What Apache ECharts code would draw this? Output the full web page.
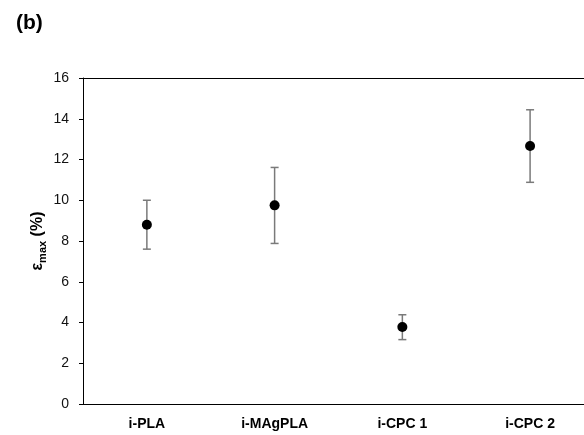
<!DOCTYPE html>
<html>
<head>
<meta charset="utf-8">
<script src="https://cdn.jsdelivr.net/npm/echarts@6/dist/echarts.min.js"></script>
<style>
    html, body { margin: 0; padding: 0; background: #fff; }
    #chart { width: 584px; height: 435px; }
</style>
</head>
<body>
<div id="chart"></div>
<script>
// 数据
var categories = ['i-PLA', 'i-MAgPLA', 'i-CPC 1', 'i-CPC 2'];
var meanValues = [8.8, 9.75, 3.78, 12.66];
var lowValues = [7.6, 7.88, 3.16, 10.88];
var highValues = [10.0, 11.61, 4.38, 14.44];
var yTicks = [0, 2, 4, 6, 8, 10, 12, 14, 16];
var categoryPos = [0, 1, 2, 3];

var font = 'Arial, "Liberation Sans", sans-serif';

var chart = echarts.init(document.getElementById('chart'));

var pointData = [], errorData = [];
for (var i = 0; i < categories.length; i++) {
    pointData.push([categoryPos[i], meanValues[i]]);
    errorData.push([categoryPos[i], lowValues[i], highValues[i]]);
}

// 误差线
function renderError(params, api) {
    var x = api.value(0);
    var lo = api.coord([x, api.value(1)]);
    var hi = api.coord([x, api.value(2)]);
    var cap = 4;
    var style = { stroke: '#7a7a7a', lineWidth: 1.5, fill: null };
    return {
        type: 'group',
        children: [
            { type: 'line', shape: { x1: hi[0], y1: hi[1], x2: lo[0], y2: lo[1] }, style: style },
            { type: 'line', shape: { x1: hi[0] - cap, y1: hi[1], x2: hi[0] + cap, y2: hi[1] }, style: style },
            { type: 'line', shape: { x1: lo[0] - cap, y1: lo[1], x2: lo[0] + cap, y2: lo[1] }, style: style }
        ]
    };
}

var option = {
    animation: false,
    backgroundColor: '#fff',
    title: {
        text: '(b)',
        left: 11,
        top: 8,
        textStyle: { fontFamily: font, fontSize: 21, fontWeight: 'bold', color: '#000' }
    },
    grid: {
        left: 83,
        top: 78,
        bottom: 31,
        right: 0
    },
    xAxis: [
        {
            type: 'value',
            // 图在右侧被裁掉，类目宽度约 128px
            min: -0.5,
            max: 3.422,
            axisLine: { show: true, onZero: false, lineStyle: { color: '#000', width: 1 } },
            axisTick: { show: false },
            axisLabel: {
                margin: 13,
                fontFamily: font,
                fontSize: 14,
                fontWeight: 'bold',
                color: '#000',
                customValues: categoryPos,
                formatter: function (v) { return categories[Math.round(v)]; }
            },
            splitLine: { show: false }
        },
        {
            type: 'value',
            position: 'top',
            min: -0.5,
            max: 3.422,
            axisLine: { show: true, onZero: false, lineStyle: { color: '#000', width: 1 } },
            axisTick: { show: false },
            axisLabel: { show: false },
            splitLine: { show: false }
        }
    ],
    yAxis: {
        type: 'value',
        min: yTicks[0],
        max: yTicks[yTicks.length - 1],
        interval: 2,
        name: '{e|ε}{sub|max}{e| (%)}',
        nameLocation: 'middle',
        nameGap: 35,
        nameRotate: 90,
        nameMoveOverlap: false,
        nameTextStyle: {
            rich: {
                e: { fontFamily: font, fontSize: 16, fontWeight: 'bold', color: '#000', lineHeight: 20, verticalAlign: 'middle' },
                sub: { fontFamily: font, fontSize: 11, fontWeight: 'bold', color: '#000', lineHeight: 20, verticalAlign: 'bottom', padding: [7, 0, 0, 0] }
            }
        },
        axisLine: { show: true, onZero: false, lineStyle: { color: '#000', width: 1 } },
        axisTick: { show: true, inside: false, length: 4, lineStyle: { color: '#000' } },
        axisLabel: { margin: 14, fontFamily: font, fontSize: 14, color: '#111' },
        splitLine: { show: false }
    },
    series: [
        {
            type: 'custom',
            renderItem: renderError,
            data: errorData,
            encode: { x: 0, y: [1, 2] },
            z: 2
        },
        {
            type: 'scatter',
            data: pointData,
            symbol: 'circle',
            symbolSize: 10,
            itemStyle: { color: '#000', opacity: 1 },
            z: 3
        }
    ]
};

chart.setOption(option);
</script>
</body>
</html>
